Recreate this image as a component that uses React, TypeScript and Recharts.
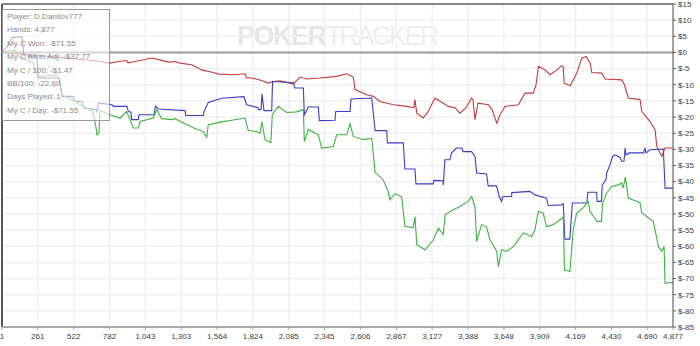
import { LineChart, Line, XAxis, YAxis, CartesianGrid, ReferenceLine } from 'recharts'

// hand numbers shown under the x axis, dollar ticks on the right
const xTicks = [1, 261, 522, 782, 1043, 1303, 1564, 1824, 2085, 2345, 2606, 2867, 3127, 3388, 3648, 3909, 4169, 4430, 4690, 4877]
const yTicks = [15, 10, 5, 0, -5, -10, -15, -20, -25, -30, -35, -40, -45, -50, -55, -60, -65, -70, -75, -80, -85]

const statLines = [
  'Player: D.Danilov777',
  'Hands: 4,877',
  'My C Won: -$71.55',
  'My C All-in Adj: -$37.77',
  'My C / 100: -$1.47',
  'BB/100: -22.60',
  'Days Played: 1',
  'My C / Day: -$71.55',
]

const redHands = [
  1, 132, 277, 422, 568, 713, 786, 858, 907, 917,
  967, 1089, 1149, 1210, 1258, 1294, 1380, 1452, 1536, 1573,
  1694, 1767, 1779, 1816, 1888, 1936, 1972, 2021, 2118, 2167,
  2215, 2312, 2433, 2506, 2554, 2566, 2651, 2699, 2748, 2845,
  2942, 2995, 3002, 3015, 3062, 3096, 3147, 3244, 3293, 3329,
  3373, 3414, 3423, 3438, 3460, 3535, 3562, 3596, 3620, 3656,
  3753, 3802, 3862, 3882, 3899, 3948, 3984, 4033, 4069, 4079,
  4086, 4130, 4178, 4215, 4246, 4275, 4287, 4360, 4384, 4505,
  4521, 4553, 4638, 4650, 4711, 4747, 4759, 4795, 4819, 4877,
]
const redValues = [
  0, -0.4, -1.0, -1.5, -2.1, -2.8, -3.3, -2.7, -2.5, -3.2,
  -2.8, -1.7, -2.3, -3.0, -2.8, -3.3, -3.8, -5.4, -6.2, -6.7,
  -6.9, -6.6, -7.9, -7.9, -8.7, -9.5, -9.0, -8.8, -9.7, -7.6,
  -8.2, -7.9, -7.4, -6.6, -7.6, -11.5, -13.1, -13.6, -15.2, -16.2,
  -16.7, -17.1, -14.6, -18.8, -20.3, -18.4, -14.1, -16.7, -17.1, -18.8,
  -17.1, -14.1, -14.6, -20.8, -15.7, -16.2, -17.7, -21.9, -19.3, -16.7,
  -16.2, -12.6, -12.6, -10.0, -4.3, -5.4, -6.9, -5.4, -4.1, -4.4,
  -9.5, -10.3, -6.4, -1.7, -1.3, -3.3, -6.2, -6.4, -8.2, -8.5,
  -9.7, -14.1, -14.6, -18.3, -21.4, -23.9, -29.1, -32.2, -29.6, -29.6,
]

const blueHands = [
  1, 45, 74, 146, 154, 161, 255, 263, 415, 437,
  517, 531, 582, 597, 684, 691, 701, 800, 810, 909,
  919, 938, 943, 991, 997, 1106, 1116, 1137, 1331, 1336,
  1464, 1469, 1500, 1597, 1759, 1779, 1861, 1864, 1883, 1890,
  1905, 1961, 1967, 2118, 2130, 2191, 2198, 2227, 2300, 2307,
  2421, 2426, 2530, 2537, 2688, 2712, 2797, 2801, 2917, 2929,
  3002, 3009, 3135, 3139, 3205, 3208, 3219, 3256, 3268, 3304,
  3343, 3352, 3413, 3438, 3450, 3522, 3534, 3595, 3614, 3631,
  3641, 3704, 3706, 3837, 3873, 3958, 3970, 4069, 4080, 4091,
  4127, 4146, 4251, 4258, 4322, 4326, 4357, 4363, 4390, 4395,
  4419, 4439, 4456, 4492, 4504, 4521, 4529, 4536, 4560, 4662,
  4674, 4681, 4710, 4807, 4819, 4877,
]
const blueValues = [
  0, 2.1, 4.6, 4.9, 1.5, -1.0, -1.2, -7.9, -7.9, -13.6,
  -13.6, -15.2, -15.2, -17.2, -17.7, -18.3, -15.6, -16.2, -16.7, -16.7,
  -18.3, -18.4, -20.8, -20.8, -19.3, -19.3, -16.6, -17.5, -18.0, -19.5,
  -19.5, -18.3, -15.5, -14.2, -13.7, -16.2, -17.1, -17.7, -17.7, -12.9,
  -18.0, -18.0, -9.0, -9.4, -11.0, -11.0, -19.3, -16.9, -16.9, -21.1,
  -21.0, -18.3, -18.3, -14.4, -14.1, -24.2, -24.2, -28.0, -28.0, -36.1,
  -36.1, -40.7, -40.7, -39.6, -39.7, -41.0, -33.2, -33.2, -31.1, -29.6,
  -29.6, -30.7, -30.7, -32.2, -37.3, -37.6, -41.3, -41.3, -44.6, -46.1,
  -44.6, -44.6, -43.4, -43.0, -44.1, -45.1, -47.4, -47.2, -46.8, -57.8,
  -57.8, -46.6, -46.6, -43.3, -43.3, -46.1, -46.1, -41.0, -39.4, -37.3,
  -34.8, -32.2, -31.7, -32.5, -33.7, -33.7, -29.6, -31.7, -31.1, -31.1,
  -29.7, -31.1, -30.1, -29.9, -42.0, -42.0,
]

const greenHands = [
  1, 37, 95, 132, 190, 226, 263, 398, 422, 437,
  531, 589, 662, 684, 691, 706, 713, 786, 858, 907,
  931, 955, 991, 1004, 1101, 1125, 1161, 1234, 1258, 1331,
  1391, 1464, 1489, 1500, 1597, 1670, 1767, 1791, 1852, 1876,
  1890, 1912, 1955, 1965, 2009, 2070, 2143, 2191, 2198, 2227,
  2300, 2324, 2409, 2433, 2506, 2530, 2554, 2627, 2688, 2712,
  2771, 2807, 2820, 2856, 2905, 2929, 2989, 3002, 3015, 3075,
  3136, 3172, 3208, 3221, 3281, 3329, 3389, 3414, 3438, 3450,
  3486, 3522, 3547, 3596, 3608, 3632, 3668, 3717, 3789, 3850,
  3874, 3898, 3934, 3958, 4007, 4068, 4080, 4088, 4128, 4140,
  4152, 4176, 4224, 4261, 4273, 4326, 4357, 4365, 4395, 4431,
  4479, 4504, 4515, 4531, 4552, 4613, 4637, 4650, 4686, 4734,
  4771, 4795, 4812, 4819, 4877,
]
const greenValues = [
  0, 0.3, 0.8, -1.6, -2.6, -3.2, -7.5, -6.9, -8.5, -13.1,
  -15.2, -16.7, -18.3, -23.3, -25.5, -24.9, -18.0, -19.3, -20.3, -18.3,
  -20.8, -23.4, -23.4, -21.4, -20.3, -17.7, -20.5, -20.8, -20.5, -22.1,
  -23.3, -24.5, -26.2, -22.4, -21.5, -21.0, -20.3, -24.2, -24.5, -25.0,
  -21.4, -27.0, -27.9, -19.3, -16.7, -18.6, -18.4, -17.7, -27.6, -23.9,
  -25.5, -29.6, -29.1, -25.5, -25.5, -22.1, -26.0, -27.0, -26.6, -37.1,
  -39.4, -43.0, -45.6, -43.7, -44.6, -53.8, -54.2, -50.8, -59.5, -61.1,
  -58.0, -54.4, -56.4, -50.2, -48.7, -47.7, -46.1, -44.6, -47.7, -58.5,
  -53.3, -53.9, -58.0, -61.6, -66.3, -61.1, -61.6, -60.1, -55.9, -57.0,
  -54.9, -49.2, -49.7, -54.0, -53.3, -51.5, -50.8, -67.3, -67.8, -61.1,
  -54.9, -49.9, -48.1, -46.1, -49.2, -52.3, -52.3, -46.8, -43.5, -41.5,
  -41.0, -40.4, -42.0, -38.6, -45.1, -46.1, -46.5, -49.7, -50.8, -52.3,
  -60.1, -61.6, -60.1, -71.4, -71.2,
]

const toRows = (hands: number[], values: number[]) => hands.map((hand, i) => ({ hand, value: values[i] }))

const redData = toRows(redHands, redValues)
const blueData = toRows(blueHands, blueValues)
const greenData = toRows(greenHands, greenValues)

const font = '"Liberation Sans", Arial, sans-serif'
const tick = { fill: '#3a3a3a', fontSize: 8, fontFamily: font }

export default function App() {
  return (
    <div style={{ position: 'absolute', left: 0, top: 0, width: 700, height: 346, background: '#fff', fontFamily: font }}>
      <div style={{ position: 'absolute', left: 237, top: 21, whiteSpace: 'nowrap', fontSize: 27, lineHeight: '30px', color: '#e6e6e6' }}>
        <span style={{ fontWeight: 700, letterSpacing: -1.5 }}>POKER</span>
        <span style={{ fontWeight: 400, letterSpacing: -2.5, color: '#ededed' }}>TRACKER</span>
      </div>

      <LineChart width={700} height={346} margin={{ top: 4, right: 0, bottom: 0, left: 2 }} style={{ position: 'absolute', left: 0, top: 0 }}>
        <CartesianGrid stroke="#efefef" strokeWidth={1.5} />
        <XAxis
          type="number"
          dataKey="hand"
          domain={[1, 4877]}
          ticks={xTicks}
          interval={0}
          height={19}
          tick={tick}
          tickSize={3}
          tickMargin={3}
          tickFormatter={(v: number) => v.toLocaleString('en-US')}
          axisLine={{ stroke: '#aaa', strokeWidth: 2 }}
          tickLine={{ stroke: '#aaa' }}
          allowDataOverflow
        />
        <YAxis
          type="number"
          orientation="right"
          domain={[-85, 15]}
          ticks={yTicks}
          interval={0}
          width={27}
          tick={tick}
          tickSize={3}
          tickMargin={2}
          tickFormatter={(v: number) => `$${v}`}
          axisLine={{ stroke: '#555' }}
          tickLine={{ stroke: '#555' }}
          allowDataOverflow
        />
        <ReferenceLine y={15} stroke="#666" strokeWidth={1.5} />
        <ReferenceLine x={1} stroke="#555" strokeWidth={2} />
        <ReferenceLine y={0} stroke="#999" strokeWidth={2} />
        <Line data={redData} dataKey="value" type="linear" stroke="#c23b3b" strokeWidth={1.1} dot={false} isAnimationActive={false} />
        <Line data={blueData} dataKey="value" type="linear" stroke="#3c3cc4" strokeWidth={1.1} dot={false} isAnimationActive={false} />
        <Line data={greenData} dataKey="value" type="linear" stroke="#3cb43c" strokeWidth={1.1} dot={false} isAnimationActive={false} />
      </LineChart>

      <div style={{ position: 'absolute', left: 2, top: 9, width: 108, height: 112, boxSizing: 'border-box', border: '1px solid #999', background: 'rgba(255,255,255,0.6)', padding: '0 0 0 4px' }}>
        {statLines.map(s => (
          <div key={s} style={{ color: '#888', fontSize: 8, lineHeight: '13.4px', whiteSpace: 'nowrap' }}>{s}</div>
        ))}
      </div>
    </div>
  )
}
